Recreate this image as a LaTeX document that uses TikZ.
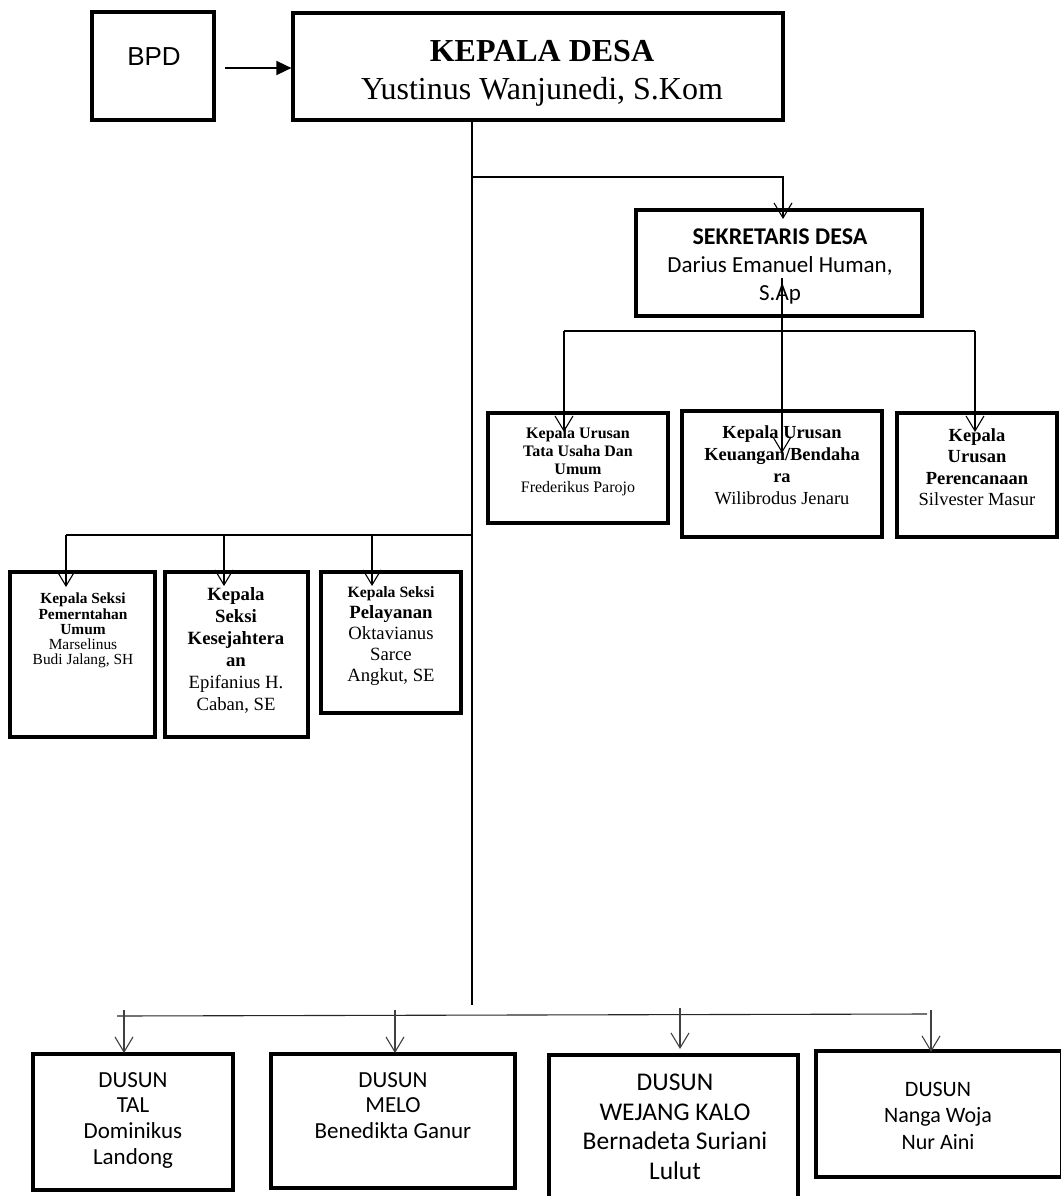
\documentclass[tikz,border=0pt]{standalone}
\usepackage{fontspec}
\setmainfont{Liberation Serif}
\setsansfont{Liberation Sans}
\newfontfamily\apt{Carlito}
\usetikzlibrary{arrows.meta,fit}
\begin{document}
\begin{tikzpicture}[x=1pt,y=-1pt,
  box/.style={draw, line width=3.2pt, inner sep=0pt},
  conn/.style={line width=1.1pt},
  varr/.style={conn, -{Straight Barb[length=15pt,width=18pt]}},
  garr/.style={varr, draw=black!75},
  txt/.style={anchor=north, inner sep=0pt, align=center},
]
\useasboundingbox (0,0) rectangle (1060,1196);

% ---------- boxes ----------
\node[box, fit={(92,12)(214,120)}] (bpd) {};
\node[box, fit={(293,13)(783,120)}] (kd) {};
\node[box, fit={(636,210)(922,316)}] (sek) {};
\node[box, fit={(488,413)(668,523)}] (tu) {};
\node[box, fit={(682,411)(882,537)}] (bend) {};
\node[box, fit={(897,413)(1057,537)}] (pere) {};
\node[box, fit={(10,572)(155,737)}] (pem) {};
\node[box, fit={(165,572)(308,737)}] (kes) {};
\node[box, fit={(321,572)(461,713)}] (pel) {};
\node[box, fit={(33,1054)(233,1190)}] (tal) {};
\node[box, fit={(271,1054)(515,1188)}] (melo) {};
\node[box, fit={(549,1055)(798,1210)}] (wej) {};
\node[box, fit={(816,1051)(1062,1177)}] (nan) {};

% ---------- texts ----------
\node[inner sep=0pt, font=\sffamily\fontsize{26}{30}\selectfont] (bpdt) at (154,57) {BPD};
\node[txt, font=\fontsize{32}{38}\selectfont] (kdt) at (542,40)
  {{\bfseries KEPALA DESA}\\Yustinus Wanjunedi, S.Kom};
\node[txt, font=\apt\fontsize{23}{28}\selectfont] (sekt) at (780,229)
  {{\bfseries\fontsize{24}{28}\selectfont SEKRETARIS DESA}\\Darius Emanuel Human,\\S.Ap};
\node[txt, font=\fontsize{16}{18}\selectfont] (tut) at (578,427)
  {{\bfseries Kepala Urusan}\\{\bfseries Tata Usaha Dan}\\{\bfseries Umum}\\Frederikus Parojo};
\node[txt, font=\fontsize{18.4}{21.7}\selectfont] (bendt) at (782,426)
  {{\bfseries Kepala Urusan}\\{\bfseries Keuangan/Bendaha}\\{\bfseries ra}\\Wilibrodus Jenaru};
\node[txt, font=\fontsize{18.5}{21.5}\selectfont] (peret) at (977,428)
  {{\bfseries Kepala}\\{\bfseries Urusan}\\{\bfseries Perencanaan}\\Silvester Masur};
\node[txt, font=\fontsize{15.4}{15.2}\selectfont] (pemt) at (83,593)
  {{\bfseries Kepala Seksi}\\{\bfseries Pemerntahan}\\{\bfseries Umum}\\Marselinus\\Budi Jalang, SH};
\node[txt, font=\fontsize{18.7}{22}\selectfont] (kest) at (236,587)
  {{\bfseries Kepala}\\{\bfseries Seksi}\\{\bfseries Kesejahtera}\\{\bfseries an}\\Epifanius H.\\Caban, SE};
\node[txt, font=\bfseries\fontsize{15.7}{18}\selectfont] (pelt1) at (391,586) {Kepala Seksi};
\node[txt, font=\fontsize{18.7}{21}\selectfont] (pelt2) at (391,605)
  {{\bfseries Pelayanan}\\Oktavianus\\Sarce\\Angkut, SE};
\node[txt, font=\apt\fontsize{23}{25.7}\selectfont] (talt) at (133,1072)
  {DUSUN\\TAL\\Dominikus\\Landong};
\node[txt, font=\apt\fontsize{23}{25.7}\selectfont] (melot) at (393,1072)
  {DUSUN\\MELO\\Benedikta Ganur};
\node[txt, font=\apt\fontsize{25.5}{29.5}\selectfont] (wejt) at (675,1074)
  {DUSUN\\WEJANG KALO\\Bernadeta Suriani\\Lulut};
\node[txt, font=\apt\fontsize{22}{26.5}\selectfont] (nant) at (938,1082)
  {DUSUN\\Nanga Woja\\Nur Aini};

% ---------- junction coordinates ----------
\coordinate (j1) at (472,177);
\coordinate (sTip) at (783,219);
\coordinate (sIn) at (782,278);
\coordinate (bTip) at (782,453);
\coordinate (hL) at (564,331);
\coordinate (hR) at (975,331);
\coordinate (tuTip) at (564,432);
\coordinate (peTip) at (975,432);
\coordinate (j2) at (472,535);
\coordinate (lL) at (66,535);
\coordinate (lM) at (224,535);
\coordinate (lR) at (372,535);
\coordinate (pemTip) at (66,587);
\coordinate (kesTip) at (224,586);
\coordinate (pelTip) at (372,586);
\coordinate (jb) at (472,1005);
\coordinate (bL) at (117,1016);
\coordinate (bR) at (927,1014);
\coordinate (a1) at (124,1010);
\coordinate (a1t) at (124,1053);
\coordinate (a2) at (395,1010);
\coordinate (a2t) at (395,1053);
\coordinate (a3) at (680,1008);
\coordinate (a3t) at (680,1049);
\coordinate (a4) at (931,1010);
\coordinate (a4t) at (931,1052);
\coordinate (bpdA) at (225,68);

% ---------- connectors ----------
\draw[line width=1.6pt, -{Triangle[length=15pt,width=14pt]}] (bpdA) -- (kd.west |- bpdA);
\draw[conn] (kd.south -| j1) -- (jb);
\draw[varr] (j1) -| (sTip);
\draw[varr] (sIn) -- (bTip);
\draw[conn] (hL) -- (hR);
\draw[varr] (hL) -- (tuTip);
\draw[varr] (hR) -- (peTip);
\draw[conn] (j2) -- (lL);
\draw[varr] (lL) -- (pemTip);
\draw[varr] (lM) -- (kesTip);
\draw[varr] (lR) -- (pelTip);
\draw[conn, draw=black!85] (bL) -- (bR);
\draw[garr] (a1) -- (a1t);
\draw[garr] (a2) -- (a2t);
\draw[garr] (a3) -- (a3t);
\draw[garr] (a4) -- (a4t);
\end{tikzpicture}
\end{document}
